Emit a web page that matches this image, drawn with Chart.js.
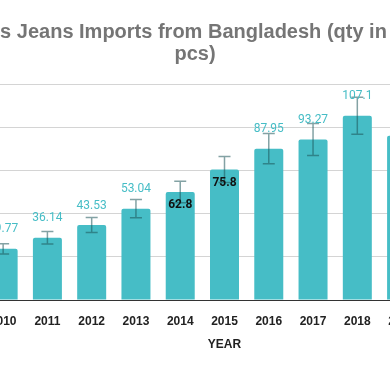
<!DOCTYPE html>
<html>
<head>
<meta charset="utf-8">
<script src="https://cdn.jsdelivr.net/npm/chart.js@4"></script>
<style>
  html, body { margin: 0; padding: 0; background: #fff; overflow: hidden; }
  #wrap { position: absolute; left: -78px; top: 0; width: 546px; height: 371px; }
</style>
</head>
<body>
<div id="wrap"><canvas id="jeansChart"></canvas></div>
<script>
// data (million pcs)
var years = ["2010", "2011", "2012", "2013", "2014", "2015", "2016", "2017", "2018", "2019", "2020"];
var importQty = [29.77, 36.14, 43.53, 53.04, 62.8, 75.8, 87.95, 93.27, 107.1, 95.4, 81.2];
var errorPercent = 10; // error bars are +/- 10% of value
var yTickValues = [0, 25, 50, 75, 100, 125];
var insideLabelYears = ["2014", "2015"]; // these labels sit inside the bar

var teal = "#46bdc6";

// error bars
var errorBars = {
  id: "errorBars",
  afterDatasetsDraw: function (chart) {
    var ctx = chart.ctx;
    var y = chart.scales.y;
    var meta = chart.getDatasetMeta(0);
    ctx.save();
    ctx.strokeStyle = "rgba(30, 85, 90, 0.55)";
    ctx.lineWidth = 1.5;
    meta.data.forEach(function (bar, i) {
      var v = importQty[i];
      var e = v * errorPercent / 100;
      var top = y.getPixelForValue(v + e);
      var bot = y.getPixelForValue(v - e);
      ctx.beginPath();
      ctx.moveTo(bar.x - 6, top);
      ctx.lineTo(bar.x + 6, top);
      ctx.moveTo(bar.x, top);
      ctx.lineTo(bar.x, bot);
      ctx.moveTo(bar.x - 6, bot);
      ctx.lineTo(bar.x + 6, bot);
      ctx.stroke();
    });
    ctx.restore();
  }
};

// value labels, drawn after the error bars
var valueLabels = {
  id: "valueLabels",
  afterDatasetsDraw: function (chart) {
    var ctx = chart.ctx;
    var meta = chart.getDatasetMeta(0);
    ctx.save();
    ctx.textAlign = "center";
    ctx.textBaseline = "middle";
    meta.data.forEach(function (bar, i) {
      if (insideLabelYears.indexOf(years[i]) >= 0) {
        ctx.font = "bold 12px Roboto";
        ctx.fillStyle = "#111";
        ctx.fillText(String(importQty[i]), bar.x, bar.y + 13);
      } else {
        ctx.font = "12px Roboto";
        ctx.fillStyle = teal;
        ctx.fillText(String(importQty[i]), bar.x, bar.y - 19.5);
      }
    });
    ctx.restore();
  }
};

var ctx = document.getElementById("jeansChart").getContext("2d");
var chart = new Chart(ctx, {
  type: "bar",
  data: {
    labels: years,
    datasets: [
      {
        label: "Imports",
        backgroundColor: teal,
        data: importQty,
        categoryPercentage: 1,
        barPercentage: 0.655,
        borderRadius: { topLeft: 2, topRight: 2 },
        borderSkipped: "bottom"
      }
    ]
  },
  options: {
    responsive: true,
    maintainAspectRatio: false,
    animation: false,
    layout: { padding: 0 },
    plugins: {
      legend: { display: false },
      tooltip: { enabled: false },
      title: {
        display: true,
        text: ["US's Jeans Imports from Bangladesh (qty in mn", "pcs)"],
        color: "#757575",
        font: { family: "'Liberation Sans', Arial, sans-serif", size: 20, weight: "bold", lineHeight: 1.13 },
        padding: { top: 20.7, bottom: 19 }
      }
    },
    scales: {
      x: {
        grid: { display: false },
        border: { color: "#333", width: 1 },
        ticks: {
          color: "#222",
          padding: 6,
          maxRotation: 0,
          autoSkip: false,
          font: { family: "'Liberation Sans', Arial, sans-serif", size: 12, weight: "bold" }
        },
        title: {
          display: true,
          text: "YEAR",
          color: "#222",
          font: { family: "'Liberation Sans', Arial, sans-serif", size: 12, weight: "bold" },
          padding: { top: 0, bottom: 19 }
        },
        afterFit: function (scale) { scale.height = 71; }
      },
      y: {
        min: yTickValues[0],
        max: yTickValues[yTickValues.length - 1],
        grid: { color: "#d4d4d4", drawTicks: false },
        border: { display: false },
        ticks: {
          stepSize: yTickValues[1] - yTickValues[0],
          color: "#444",
          font: { family: "'Liberation Sans', Arial, sans-serif", size: 12 }
        },
        afterFit: function (scale) { scale.width = 59; }
      }
    }
  },
  plugins: [errorBars, valueLabels]
});
</script>
</body>
</html>
